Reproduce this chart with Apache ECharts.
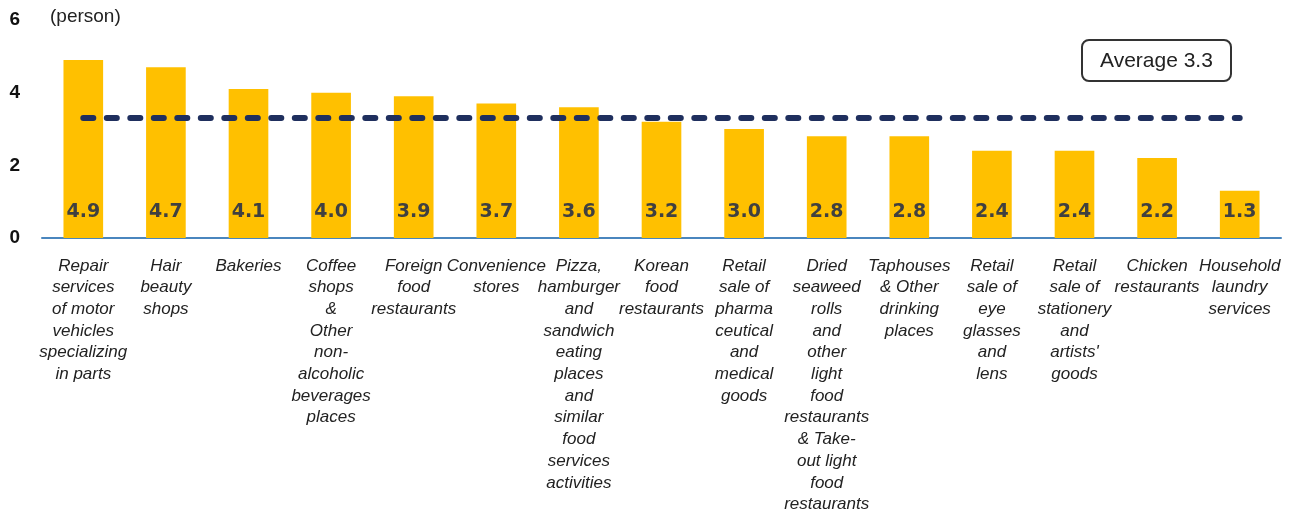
<!DOCTYPE html>
<html>
<head>
<meta charset="utf-8">
<title>Average persons by business type</title>
<script src="https://cdn.jsdelivr.net/npm/echarts@6/dist/echarts.min.js"></script>
<style>
  html, body { margin: 0; padding: 0; background: #fff; }
  #chart { width: 1297px; height: 513px; }
</style>
</head>
<body>
<div id="chart"></div>
<script>
  // categories (line breaks as in the original)
  var categories = [
    'Repair\nservices\nof motor\nvehicles\nspecializing\nin parts',
    'Hair\nbeauty\nshops',
    'Bakeries',
    'Coffee\nshops\n&\nOther\nnon-\nalcoholic\nbeverages\nplaces',
    'Foreign\nfood\nrestaurants',
    'Convenience\nstores',
    'Pizza,\nhamburger\nand\nsandwich\neating\nplaces\nand\nsimilar\nfood\nservices\nactivities',
    'Korean\nfood\nrestaurants',
    'Retail\nsale of\npharma\nceutical\nand\nmedical\ngoods',
    'Dried\nseaweed\nrolls\nand\nother\nlight\nfood\nrestaurants\n& Take-\nout light\nfood\nrestaurants',
    'Taphouses\n& Other\ndrinking\nplaces',
    'Retail\nsale of\neye\nglasses\nand\nlens',
    'Retail\nsale of\nstationery\nand\nartists\'\ngoods',
    'Chicken\nrestaurants',
    'Household\nlaundry\nservices'
  ];
  var persons = [4.9, 4.7, 4.1, 4.0, 3.9, 3.7, 3.6, 3.2, 3.0, 2.8, 2.8, 2.4, 2.4, 2.2, 1.3];
  var average = 3.3;
  var yTicks = [0, 2, 4, 6];

  var myChart = echarts.init(document.getElementById('chart'));
  var option = {
    animation: false,
    title: {
      text: 'Average ' + average.toFixed(1),
      left: 1082,
      top: 40,
      padding: [10, 18, 9, 18],
      borderColor: '#333',
      borderWidth: 2,
      borderRadius: 7,
      textStyle: {
        fontFamily: 'Liberation Sans, Arial, sans-serif',
        fontSize: 21,
        lineHeight: 22,
        fontWeight: 'normal',
        color: '#222'
      }
    },
    grid: {
      left: 42,
      right: 16,
      top: 20,
      bottom: 275,
      outerBoundsMode: 'none'
    },
    xAxis: {
      type: 'category',
      data: categories,
      axisLine: { lineStyle: { color: '#4A86BE', width: 2 } },
      axisTick: { show: false },
      axisLabel: {
        interval: 0,
        margin: 17,
        fontFamily: 'Liberation Sans, Arial, sans-serif',
        fontStyle: 'italic',
        fontSize: 17,
        lineHeight: 21.7,
        color: '#222'
      }
    },
    yAxis: {
      type: 'value',
      min: yTicks[0],
      max: yTicks[yTicks.length - 1],
      interval: 2,
      name: '(person)',
      nameLocation: 'end',
      nameGap: 3,
      nameTextStyle: {
        align: 'left',
        verticalAlign: 'middle',
        padding: [0, 0, 0, 8],
        fontFamily: 'Liberation Sans, Arial, sans-serif',
        fontSize: 19,
        color: '#222'
      },
      splitLine: { show: false },
      axisLine: { show: false },
      axisTick: { show: false },
      axisLabel: {
        margin: 22,
        padding: [6, 0, 0, 0],
        fontFamily: 'Liberation Sans, Arial, sans-serif',
        fontWeight: 'bold',
        fontSize: 19,
        color: '#111'
      }
    },
    series: [{
      name: 'person',
      type: 'bar',
      data: persons,
      barWidth: '48%',
      itemStyle: { color: '#FFC000' },
      label: {
        show: true,
        position: 'insideBottom',
        distance: 16,
        formatter: function (p) { return p.value.toFixed(1); },
        fontFamily: 'DejaVu Sans, Verdana, sans-serif',
        fontWeight: 'bold',
        fontSize: 19,
        color: '#404040'
      },
      markLine: {
        silent: true,
        symbol: 'none',
        label: { show: false },
        lineStyle: {
          color: '#1F2F5E',
          width: 6,
          type: [10, 13.5],
          cap: 'round'
        },
        data: [[
          { coord: [categories[0], average] },
          { coord: [categories[categories.length - 1], average] }
        ]]
      }
    }]
  };
  myChart.setOption(option);
</script>
</body>
</html>
